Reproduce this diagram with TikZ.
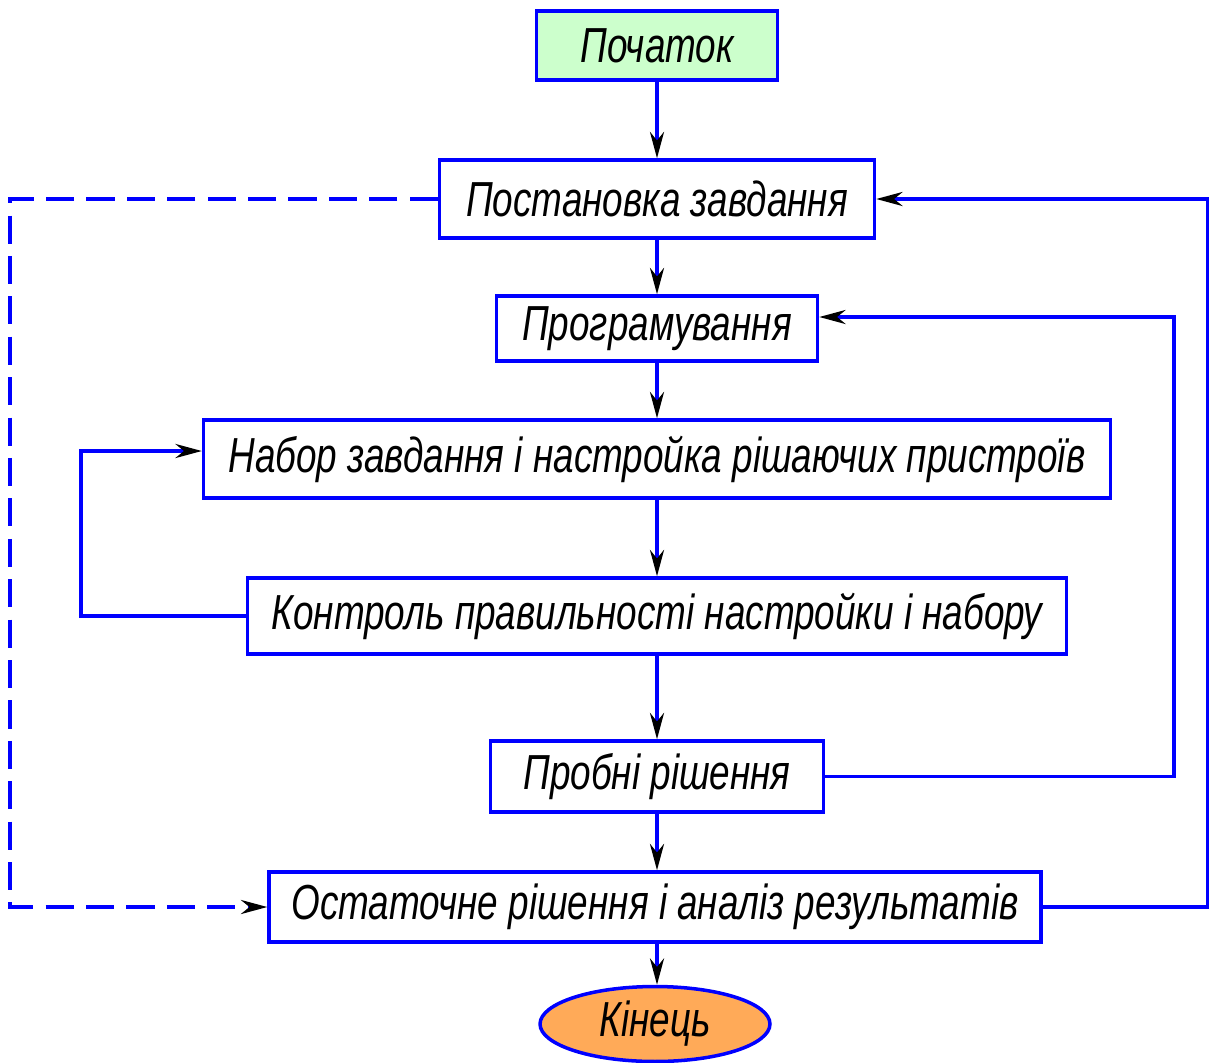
\documentclass[tikz,border=0pt]{standalone}
\usepackage{fontspec}
\setmainfont{Liberation Sans}[FakeStretch=0.75]
\usetikzlibrary{arrows.meta, positioning, shapes.geometric}
\definecolor{FlowBlue}{RGB}{0, 0, 255}
\definecolor{StartGreen}{HTML}{CCFFCC}
\definecolor{EndOrange}{HTML}{FFAA58}

\begin{document}
\begin{tikzpicture}[x=0.02cm, y=-0.02cm,
    blk/.style={draw=FlowBlue, line width=2pt, inner sep=0pt, font=\fontsize{28}{30}\selectfont\itshape},
    flow/.style={draw=FlowBlue, line width=2pt, -{Stealth[color=black, length=15pt, width=8pt]}},
    back/.style={flow, dash pattern=on 16pt off 7pt}]
    \useasboundingbox (0,0) rectangle (1210,1062);

    % blocks
    \node[blk, fill=StartGreen, minimum width=4.82cm, minimum height=1.38cm] (start) at (657,45.5) {Початок};
    \node[blk, minimum width=8.7cm, minimum height=1.56cm] (task) at (657,199) {Постановка завдання};
    \node[blk, minimum width=6.42cm, minimum height=1.3cm] (prog) at (657,328.5) {Програмування};
    \node[blk, minimum width=18.14cm, minimum height=1.56cm] (setup) at (657,459) {Набор завдання і настройка рішаючих пристроїв};
    \node[blk, minimum width=16.38cm, minimum height=1.52cm] (check) at (657,616) {Контроль правильності настройки і набору};
    \node[blk, minimum width=6.66cm, minimum height=1.42cm] (trial) at (657,776.5) {Пробні рішення};
    \node[blk, minimum width=15.44cm, minimum height=1.4cm] (final) at (655,907) {Остаточне рішення і аналіз результатів};
    \node[blk, ellipse, fill=EndOrange, minimum width=4.6cm, minimum height=1.5cm] (stop) at (655,1024) {Кінець};

    % main line
    \draw[flow] (start) -- (task);
    \draw[flow] (task) -- (prog);
    \draw[flow] (prog) -- (setup);
    \draw[flow] (setup) -- (check);
    \draw[flow] (check) -- (trial);
    \draw[flow] (trial.south) -- (trial.south |- final.north);
    \draw[flow] (final.south -| trial.south) -- (stop.north -| trial.south);

    % feedback
    \draw[flow] (check.west) -- ++(-165,0) |- ([yshift=0.16cm]setup.west);
    \draw[flow] (trial.east) -- ++(349,0) |- ([yshift=0.23cm]prog.east);
    \draw[flow] (final.east) -- ++(165,0) |- (task.east);
    \draw[back] (task.west) -- ++(-428,0) |- (final.west);
\end{tikzpicture}
\end{document}
